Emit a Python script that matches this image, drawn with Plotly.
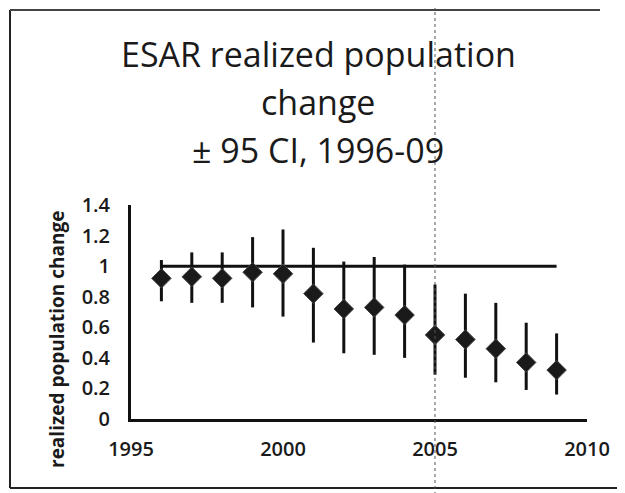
import plotly.graph_objects as go

years = [1996, 1997, 1998, 1999, 2000, 2001, 2002, 2003, 2004, 2005, 2006, 2007, 2008, 2009]
change = [0.92, 0.93, 0.92, 0.96, 0.95, 0.82, 0.72, 0.73, 0.68, 0.55, 0.52, 0.46, 0.37, 0.32]
upper = [1.04, 1.09, 1.09, 1.19, 1.24, 1.12, 1.03, 1.06, 1.01, 0.88, 0.82, 0.76, 0.63, 0.56]
lower = [0.77, 0.76, 0.76, 0.73, 0.67, 0.50, 0.43, 0.42, 0.40, 0.29, 0.27, 0.24, 0.19, 0.16]
reference = [1.0] * len(years)

title_lines = ["ESAR realized population", "change", "± 95 CI, 1996-09"]
y_title = "realized population change"
x_ticks = [1995, 2000, 2005, 2010]
y_ticks = [0, 0.2, 0.4, 0.6, 0.8, 1, 1.2, 1.4]
y_ticktext = ["0", "0.2", "0.4", "0.6", "0.8", "1", "1.2", "1.4"]

err_plus = [u - c for u, c in zip(upper, change)]
err_minus = [c - l for c, l in zip(change, lower)]

OFF = 8  # page body margin
W, H = 625 - OFF, 493 - OFF
# screen-pixel plot box
SL, SR, ST, SB = 131, 587, 205, 419
L, T = SL - OFF, ST - OFF
pw, ph = SR - SL, SB - ST
R = W - L - pw
B = H - T - ph

def px(x):
    return (x - SL) / pw

def py(y):
    return (SB - y) / ph

fig = go.Figure()
fig.add_trace(go.Scatter(
    x=years, y=reference, mode="lines",
    line=dict(color="#111", width=3), showlegend=False, hoverinfo="skip"))
fig.add_trace(go.Scatter(
    x=years, y=change, mode="markers",
    marker=dict(symbol="diamond", size=15, color="#1a1a1a",
                line=dict(color="#444", width=1)),
    error_y=dict(type="data", symmetric=False, array=err_plus, arrayminus=err_minus,
                 color="#111", thickness=3, width=0),
    showlegend=False))

font_family = "Open Sans, Liberation Sans, sans-serif"
annotations = []
for txt, yp in zip(title_lines, [54, 102, 150]):
    annotations.append(dict(text=txt, x=px(318), y=py(yp), xref="paper", yref="paper",
                            showarrow=False, xanchor="center", yanchor="middle",
                            font=dict(family=font_family, size=34, color="#1a1a1a")))
annotations.append(dict(text="<b>" + y_title + "</b>", x=px(57), y=py(340), xref="paper", yref="paper",
                        showarrow=False, textangle=-90, xanchor="center", yanchor="middle",
                        font=dict(family=font_family, size=19, color="#1a1a1a")))

shapes = [
    dict(type="line", xref="paper", yref="paper", x0=px(10), x1=px(10), y0=py(10), y1=py(488),
         line=dict(color="#222", width=2)),
    dict(type="line", xref="paper", yref="paper", x0=px(10), x1=px(600), y0=py(10), y1=py(10),
         line=dict(color="#444", width=2)),
    dict(type="line", xref="paper", yref="paper", x0=px(10), x1=px(625), y0=py(488), y1=py(488),
         line=dict(color="#222", width=2)),
    dict(type="line", xref="paper", yref="paper", x0=px(435), x1=px(435), y0=py(0), y1=py(493),
         line=dict(color="#555", width=1, dash="dot")),
]

tick_font = dict(size=20, family=font_family, weight=600, color="#1a1a1a")
fig.update_layout(
    width=W, height=H,
    margin=dict(l=L, r=R, t=T, b=B, autoexpand=False),
    paper_bgcolor="white", plot_bgcolor="white",
    annotations=annotations, shapes=shapes,
    font=dict(family=font_family, color="#1a1a1a"),
    xaxis=dict(range=[1995, 2010], tickvals=x_ticks, showgrid=False, zeroline=False,
               showline=True, linecolor="#111", linewidth=3, ticks="",
               ticklabelstandoff=10, tickfont=tick_font),
    yaxis=dict(range=[0, 1.4], tickvals=y_ticks, ticktext=y_ticktext, showgrid=False,
               zeroline=False, showline=True, linecolor="#111", linewidth=3, ticks="",
               ticklabelstandoff=14, tickfont=tick_font),
)

fig.write_html("out.html")
